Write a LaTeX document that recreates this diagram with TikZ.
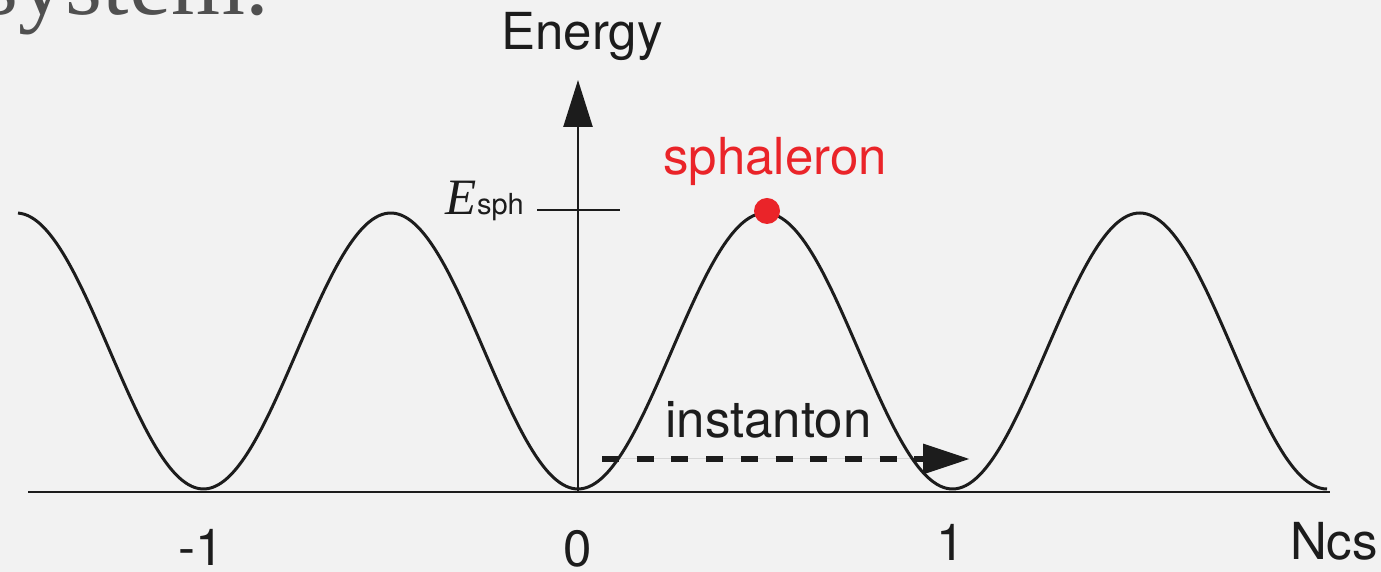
\documentclass[tikz,border=0pt]{standalone}
\usepackage{fontspec}
\usetikzlibrary{arrows.meta}
\newfontfamily\helvfont{TeX Gyre Heros}
\newfontfamily\tmsfont{Liberation Serif}
\definecolor{paper}{RGB}{242,242,242}
\definecolor{sphred}{RGB}{234,36,41}
\definecolor{headgray}{RGB}{80,80,80}
\definecolor{ink}{RGB}{28,28,28}
\begin{document}
\begin{tikzpicture}[x=1pt,y=1pt,
  lbl/.style={inner sep=0pt,anchor=base,text=ink,font=\helvfont\fontsize{51}{60}\selectfont},
  axisline/.style={draw=ink,line width=2.8pt},
  curve/.style={draw=ink,line width=3pt},
  tipbig/.style={-{Triangle[length=47pt,width=29pt]}}
]
\useasboundingbox (0,0) rectangle (1381,572);
\fill[paper] (0,0) rectangle (1381,572);
% heading fragment
\begin{scope}
\clip (0,0) rectangle (1381,572);
\node[inner sep=0pt,anchor=base west,text=headgray,font=\tmsfont\fontsize{95}{100}\selectfont] (head) at (-19,557) {system.};
\end{scope}
% coordinates
\coordinate (xstart) at (28,80);
\coordinate (xend) at (1330,80);
\coordinate (o) at (578,80);
\coordinate (ytop) at (578,492);
\coordinate (tickl) at (537,362);
\coordinate (tickr) at (620,362);
\coordinate (inst0) at (602,113);
\coordinate (inst1) at (970,113);
% potential curve
\draw[curve] plot[domain=18:1327,samples=400,smooth] (\x,{83+138*(1-cos(0.961282*(\x-578)))});
% axes
\draw[axisline] (xstart) -- (xend);
\draw[axisline,line width=2.5pt,tipbig,draw=ink,fill=ink] (o) -- (ytop);
\draw[axisline,line width=2.5pt] (tickl) -- (tickr);
% instanton arrow
\draw[draw=ink,line width=6.5pt,dash pattern=on 17pt off 17.7pt,-{Triangle[length=47pt,width=29pt]},fill=ink] (inst0) -- (inst1);
% sphaleron dot
\fill[sphred] (767,361) circle[radius=13] coordinate (dot);
% labels
\node[lbl] (energy) at (582,522) {Energy};
\node[lbl,anchor=base east] (esph) at (524,357) {{\tmsfont\itshape E}{\fontsize{29}{30}\selectfont sph}};
\node[lbl,text=sphred] (sphal) at (775,397) {sphaleron};
\node[lbl] (instl) at (768.5,134) {instanton};
\node[lbl] (lm1) at (201,6) {-1};
\node[lbl] (l0) at (578,5) {0};
\node[lbl] (l1) at (951,11) {1};
\node[lbl] (ncs) at (1334,12) {Ncs};
\end{tikzpicture}
\end{document}
